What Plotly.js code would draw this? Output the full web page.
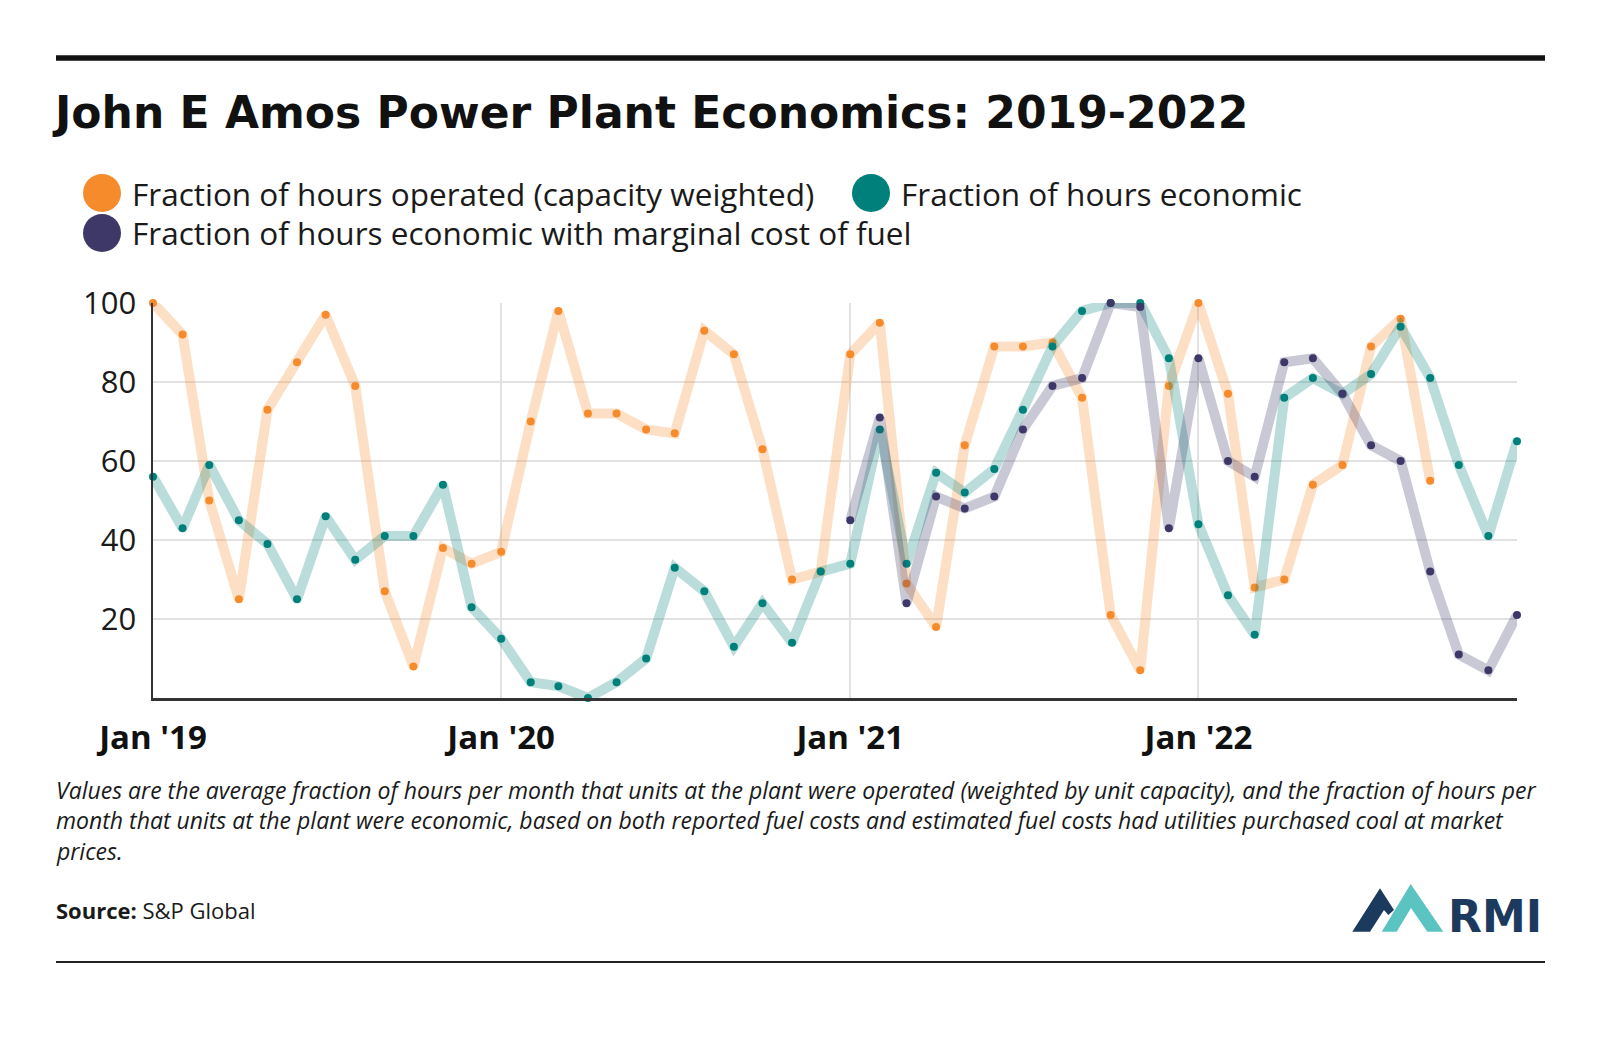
<!DOCTYPE html>
<html><head><meta charset="utf-8">
<script src="https://cdn.plot.ly/plotly-3.0.1.min.js"></script>
<style>html,body{margin:0;padding:0;background:#fff;}#chart{width:1600px;height:1040px;}</style>
</head><body><div id="chart"></div>
<script>
const months = [
 "2019-01-01","2019-02-01","2019-03-01","2019-04-01","2019-05-01","2019-06-01","2019-07-01","2019-08-01","2019-09-01","2019-10-01","2019-11-01","2019-12-01",
 "2020-01-01","2020-02-01","2020-03-01","2020-04-01","2020-05-01","2020-06-01","2020-07-01","2020-08-01","2020-09-01","2020-10-01","2020-11-01","2020-12-01",
 "2021-01-01","2021-02-01","2021-03-01","2021-04-01","2021-05-01","2021-06-01","2021-07-01","2021-08-01","2021-09-01","2021-10-01","2021-11-01","2021-12-01",
 "2022-01-01","2022-02-01","2022-03-01","2022-04-01","2022-05-01","2022-06-01","2022-07-01","2022-08-01","2022-09-01","2022-10-01","2022-11-01","2022-12-01"];

const seriesNames = [
 "Fraction of hours operated (capacity weighted)",
 "Fraction of hours economic",
 "Fraction of hours economic with marginal cost of fuel"];

const operated = [
 100, 92, 50, 25, 73, 85, 97, 79, 27, 8, 38, 34,
 37, 70, 98, 72, 72, 68, 67, 93, 87, 63, 30, 32,
 87, 95, 29, 18, 64, 89, 89, 90, 76, 21, 7, 79,
 100, 77, 28, 30, 54, 59, 89, 96, 55, null, null, null];

const economic = [
 56, 43, 59, 45, 39, 25, 46, 35, 41, 41, 54, 23,
 15, 4, 3, 0, 4, 10, 33, 27, 13, 24, 14, 32,
 34, 68, 34, 57, 52, 58, 73, 89, 98, 100, 100, 86,
 44, 26, 16, 76, 81, 77, 82, 94, 81, 59, 41, 65];

const economicMarginal = [
 null, null, null, null, null, null, null, null, null, null, null, null,
 null, null, null, null, null, null, null, null, null, null, null, null,
 45, 71, 24, 51, 48, 51, 68, 79, 81, 100, 99, 43,
 86, 60, 56, 85, 86, 77, 64, 60, 32, 11, 7, 21];

const xRange = ["2019-01-01", "2022-12-01"];
const xTickVals = ["2019-01-01", "2020-01-01", "2021-01-01", "2022-01-01"];
const xTickLabels = ["Jan '19", "Jan '20", "Jan '21", "Jan '22"];
const yTickVals = [20, 40, 60, 80, 100];
const yTickLabels = ["20", "40", "60", "80", "100"];

const titleText = "John E Amos Power Plant Economics: 2019-2022";
const noteLines = [
 "Values are the average fraction of hours per month that units at the plant were operated (weighted by unit capacity), and the fraction of hours per",
 "month that units at the plant were economic, based on both reported fuel costs and estimated fuel costs had utilities purchased coal at market",
 "prices."];
const sourceText = "<b>Source:</b> S&amp;P Global";

const colors = ["#F68B2C", "#00807A", "#3D3868"];
const lineColors = ["rgba(246,139,44,0.28)", "rgba(0,128,122,0.27)", "rgba(61,56,104,0.28)"];

// plot geometry (pixels)
const W = 1600, H = 1040;
const M = {l: 153, r: 83, t: 303, b: 342};
const PW = W - M.l - M.r, PH = H - M.t - M.b;
const px = v => (v - M.l) / PW;
const py = v => (H - M.b - v) / PH;

const series = [operated, economic, economicMarginal];
const traces = series.map((ys, i) => ({
  type: "scatter", mode: "lines+markers", x: months, y: ys, name: seriesNames[i],
  line: {color: lineColors[i], width: 10},
  marker: {color: colors[i], size: 8},
  cliponaxis: false, connectgaps: false, hoverinfo: "skip"
}));

const sansFont = "Open Sans, Noto Sans, sans-serif";
const shapes = [];
const annotations = [];

// top & bottom rules
shapes.push({type: "line", xref: "paper", yref: "paper", x0: px(56), x1: px(1545), y0: py(58), y1: py(58), line: {color: "#111", width: 5.5}});
shapes.push({type: "line", xref: "paper", yref: "paper", x0: px(56), x1: px(1545), y0: py(962), y1: py(962), line: {color: "#222", width: 2}});

// legend
const legendPos = [[102, 193], [871, 193], [102, 233]];
legendPos.forEach(([cx, cy], i) => {
  const r = 19;
  shapes.push({type: "circle", xref: "paper", yref: "paper", x0: px(cx - r), x1: px(cx + r), y0: py(cy + r), y1: py(cy - r),
    fillcolor: colors[i], line: {width: 0}});
  annotations.push({xref: "paper", yref: "paper", x: px(cx + 28), y: py(cy), xanchor: "left", yanchor: "middle",
    text: seriesNames[i], showarrow: false, font: {family: sansFont, size: 31.5, color: "#1a1a1a"}});
});

// note lines
const noteY = [790, 820, 851];
noteLines.forEach((t, i) => {
  annotations.push({xref: "paper", yref: "paper", x: px(54), y: py(noteY[i]), xanchor: "left", yanchor: "middle",
    text: t, showarrow: false, font: {family: sansFont, size: 23, style: "italic", color: "#1a1a1a"}});
});
annotations.push({xref: "paper", yref: "paper", x: px(54), y: py(910), xanchor: "left", yanchor: "middle",
  text: sourceText, showarrow: false, font: {family: sansFont, size: 22, color: "#1a1a1a"}});

// RMI logo
const pathFrom = pts => "M " + pts.map(p => px(p[0]) + " " + py(p[1])).join(" L ") + " Z";
shapes.push({type: "path", xref: "paper", yref: "paper", fillcolor: "#1C3A5E", line: {width: 0},
  path: pathFrom([[1352.3, 931.7], [1380, 888.3], [1394, 910], [1388.3, 915], [1384, 910], [1370, 931.7]])});
shapes.push({type: "path", xref: "paper", yref: "paper", fillcolor: "#5BC4C1", line: {width: 0},
  path: pathFrom([[1381.7, 931.7], [1410.7, 884], [1443.3, 931.7], [1427.3, 931.7], [1411, 908], [1396.7, 931.7]])});
annotations.push({xref: "paper", yref: "paper", x: px(1544), y: py(916), xanchor: "right", yanchor: "middle",
  text: "<b>RMI</b>", showarrow: false, font: {family: "DejaVu Sans, sans-serif", size: 44, color: "#1C3A5E"}});

const layout = {
  width: W, height: H, margin: M, paper_bgcolor: "#fff", plot_bgcolor: "#fff",
  showlegend: false, hovermode: false,
  title: {text: "<b>" + titleText + "</b>", xref: "container", yref: "container", x: 55 / W, xanchor: "left",
    y: 1 - 113 / H, yanchor: "middle", font: {family: "DejaVu Sans, sans-serif", size: 44, color: "#111"}},
  xaxis: {type: "date", range: xRange, tickvals: xTickVals, ticktext: xTickLabels,
    showgrid: true, gridcolor: "#e2e2e2", gridwidth: 2, showline: true, linecolor: "#333", linewidth: 3,
    ticks: "outside", ticklen: 8, tickcolor: "rgba(0,0,0,0)",
    tickfont: {family: sansFont, size: 33, weight: 700, color: "#111"}, zeroline: false, fixedrange: true},
  yaxis: {range: [0, 100], tickvals: yTickVals, ticktext: yTickLabels,
    showgrid: true, gridcolor: "#e2e2e2", gridwidth: 2, showline: true, linecolor: "#333", linewidth: 2.5,
    ticks: "outside", ticklen: 8, tickcolor: "rgba(0,0,0,0)",
    tickfont: {family: sansFont, size: 31, color: "#1a1a1a"}, zeroline: false, fixedrange: true},
  shapes: shapes, annotations: annotations
};

Plotly.newPlot("chart", traces, layout, {displayModeBar: false, staticPlot: true});
</script>
</body></html>
